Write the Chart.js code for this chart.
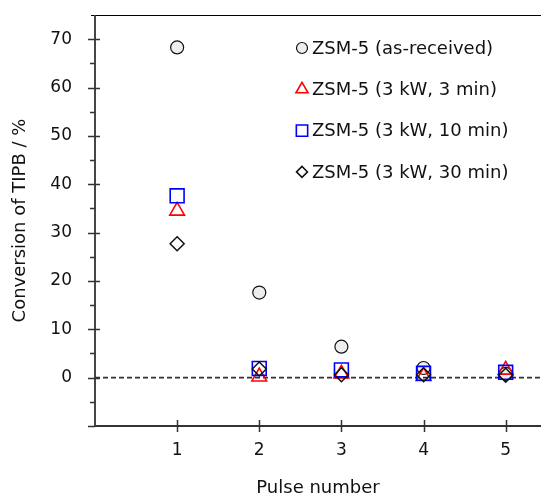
<!DOCTYPE html>
<html>
<head>
<meta charset="utf-8">
<script src="https://cdn.jsdelivr.net/npm/chart.js@4/dist/chart.umd.min.js"></script>
<style>
  html, body { margin: 0; padding: 0; background: #fff; }
  #wrap { width: 541px; height: 499px; }
</style>
</head>
<body>
<div id="wrap"><canvas id="tipb" width="541" height="499"></canvas></div>
<script>
const pulses = [1, 2, 3, 4, 5];
const seriesLabels = ['ZSM-5 (as-received)', 'ZSM-5 (3 kW, 3 min)', 'ZSM-5 (3 kW, 10 min)', 'ZSM-5 (3 kW, 30 min)'];
const asReceived = [68.3, 17.6, 6.4, 2.0, 0.8];
const kw3min3 = [34.5, 0.2, 0.8, 0.3, 1.6];
const kw3min10 = [37.6, 1.9, 1.6, 0.9, 1.1];
const kw3min30 = [27.7, 1.8, 0.6, 0.6, 0.5];
const yTickLabels = ['0', '10', '20', '30', '40', '50', '60', '70'];
const yTickValues = [-10, -5, 0, 5, 10, 15, 20, 25, 30, 35, 40, 45, 50, 55, 60, 65, 70];

function pts(vals) {
  return pulses.map((p, i) => ({ x: p, y: vals[i] }));
}

Chart.defaults.font.family = '"DejaVu Sans", sans-serif';
Chart.defaults.color = '#111';

// order: circles at the back, diamonds on top
const styles = [
  { order: 4, pointStyle: 'circle', pointRadius: 6.5, borderColor: '#111', backgroundColor: '#eeeeee', borderWidth: 1.2 },
  { order: 3, pointStyle: 'triangle', pointRadius: 8.5, borderColor: '#ff0000', backgroundColor: 'rgba(0,0,0,0)', borderWidth: 1.6 },
  { order: 2, pointStyle: 'rect', pointRadius: 9.8, borderColor: '#0000ff', backgroundColor: 'rgba(0,0,0,0)', borderWidth: 1.6 },
  { order: 1, pointStyle: 'rectRot', pointRadius: 7, borderColor: '#111', backgroundColor: 'rgba(0,0,0,0)', borderWidth: 1.5 }
];
const allSeries = [asReceived, kw3min3, kw3min10, kw3min30];

function drawMarker(ctx, style, x, y, r) {
  ctx.beginPath();
  if (style === 'circle') {
    ctx.arc(x, y, r, 0, Math.PI * 2);
  } else if (style === 'triangle') {
    for (let k = 0; k < 3; k++) {
      const a = k * 2 * Math.PI / 3;
      const px = x + Math.sin(a) * r, py = y - Math.cos(a) * r;
      if (k === 0) ctx.moveTo(px, py); else ctx.lineTo(px, py);
    }
    ctx.closePath();
  } else if (style === 'rect') {
    const s = r * Math.SQRT1_2;
    ctx.rect(x - s, y - s, 2 * s, 2 * s);
  } else {
    ctx.moveTo(x - r, y); ctx.lineTo(x, y - r); ctx.lineTo(x + r, y); ctx.lineTo(x, y + r);
    ctx.closePath();
  }
}

const frame = {
  id: 'frame',
  beforeDatasetsDraw(chart) {
    const { ctx, chartArea: a, scales: { x, y } } = chart;
    ctx.save();
    // dashed zero line
    const y0 = y.getPixelForValue(0);
    ctx.strokeStyle = '#333';
    ctx.lineWidth = 1.6;
    ctx.setLineDash([5, 3]);
    ctx.beginPath(); ctx.moveTo(a.left, y0); ctx.lineTo(a.right, y0); ctx.stroke();
    ctx.setLineDash([]);
    // top border
    ctx.strokeStyle = '#000';
    ctx.lineWidth = 1;
    ctx.beginPath(); ctx.moveTo(a.left - 4, a.top + 0.5); ctx.lineTo(a.right, a.top + 0.5); ctx.stroke();
    // axes
    ctx.strokeStyle = '#333';
    ctx.lineWidth = 1.8;
    ctx.beginPath();
    ctx.moveTo(a.left, a.top); ctx.lineTo(a.left, a.bottom);
    ctx.moveTo(a.left, a.bottom); ctx.lineTo(a.right, a.bottom);
    ctx.stroke();
    // y ticks
    ctx.lineWidth = 1.5;
    y.ticks.forEach(t => {
      const py = Math.round(y.getPixelForValue(t.value)) + 0.5;
      const major = t.value % 10 === 0;
      ctx.beginPath();
      ctx.moveTo(a.left - (major ? 7 : 5), py);
      ctx.lineTo(a.left + (major && t.value > -10 ? 5 : 0), py);
      ctx.stroke();
    });
    // x ticks
    x.ticks.forEach(t => {
      if (!pulses.includes(t.value)) return;
      const px = Math.round(x.getPixelForValue(t.value)) + 0.5;
      ctx.beginPath();
      ctx.moveTo(px, a.bottom - 6);
      ctx.lineTo(px, a.bottom + 6);
      ctx.stroke();
    });
    ctx.restore();
  },
  afterDraw(chart) {
    const { ctx } = chart;
    ctx.save();
    ctx.font = '18px "DejaVu Sans"';
    ctx.textBaseline = 'middle';
    ctx.textAlign = 'left';
    chart.data.datasets.forEach((ds, i) => {
      const ly = 48 + i * 41.3;
      const st = styles[i];
      ctx.lineWidth = st.borderWidth;
      ctx.strokeStyle = st.borderColor;
      ctx.fillStyle = st.backgroundColor;
      const r = { circle: 5.5, triangle: 7, rect: 8, rectRot: 5.5 }[st.pointStyle];
      drawMarker(ctx, st.pointStyle, 302, ly, r);
      ctx.fill();
      ctx.stroke();
      ctx.fillStyle = '#111';
      ctx.fillText(ds.label, 312, ly + 1);
    });
    ctx.restore();
  }
};

new Chart(document.getElementById('tipb'), {
  type: 'scatter',
  data: {
    datasets: allSeries.map((vals, i) => Object.assign({
      label: seriesLabels[i],
      data: pts(vals)
    }, styles[i]))
  },
  options: {
    responsive: false,
    animation: false,
    layout: { autoPadding: false, padding: { top: 15, right: 0, left: 0, bottom: 0 } },
    plugins: {
      legend: { display: false },
      tooltip: { enabled: false }
    },
    scales: {
      x: {
        type: 'linear',
        min: 0,
        max: 5.43,
        afterBuildTicks: function(scale) { scale.ticks = pulses.map(v => ({ value: v })); },
        afterFit: function(scale) {
          scale.height = 73;
          scale.paddingLeft = 0;
          scale.paddingRight = 0;
        },
        grid: { display: false, drawTicks: false },
        border: { display: false },
        ticks: {
          padding: 14,
          font: { size: 17 },
          maxRotation: 0,
          autoSkip: false,
          callback: function(v) { return String(v); }
        },
        title: { display: true, text: 'Pulse number', font: { size: 18 }, padding: { top: 0, bottom: 0 } }
      },
      y: {
        min: -10,
        max: 75,
        afterBuildTicks: function(scale) { scale.ticks = yTickValues.map(v => ({ value: v })); },
        afterFit: function(scale) {
          scale.width = 95;
          scale.paddingTop = 0;
          scale.paddingBottom = 0;
        },
        grid: { display: false, drawTicks: false },
        border: { display: false },
        ticks: {
          padding: 23,
          font: { size: 17 },
          autoSkip: false,
          callback: function(v) {
            const s = String(v);
            return yTickLabels.includes(s) ? s : '';
          }
        },
        title: { display: true, text: 'Conversion of TIPB / %', font: { size: 18 }, padding: { top: 10, bottom: 0 } }
      }
    }
  },
  plugins: [frame]
});
</script>
</body>
</html>
